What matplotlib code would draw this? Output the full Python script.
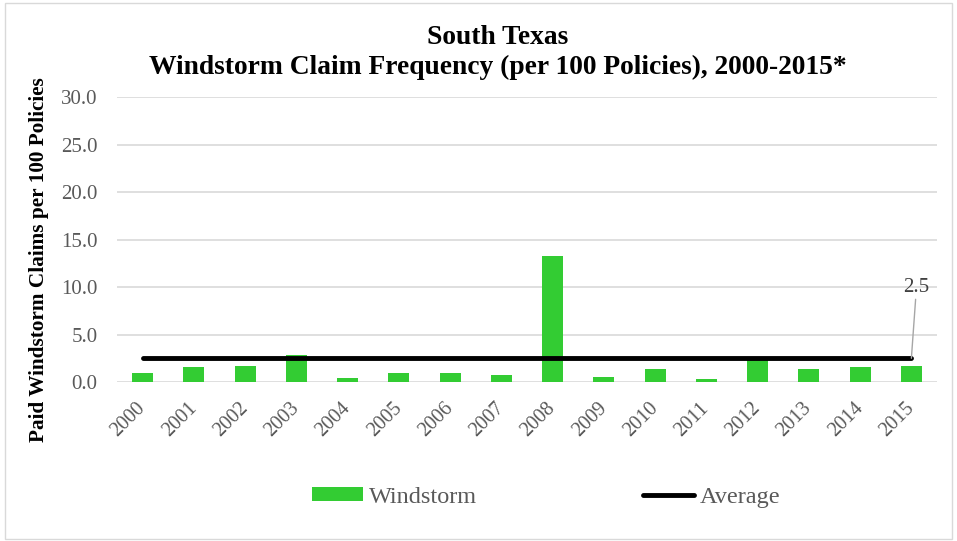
import matplotlib.pyplot as plt
from matplotlib.patches import Rectangle

years = [str(y) for y in range(2000, 2016)]
windstorm = [1.0, 1.6, 1.7, 2.8, 0.45, 0.9, 0.95, 0.7, 13.3, 0.5, 1.35, 0.3, 2.3, 1.35, 1.55, 1.65]
average = 2.5

plt.rcParams['font.family'] = ['Liberation Serif', 'DejaVu Serif']

fig = plt.figure(figsize=(9.57, 5.41), dpi=100)
ax = fig.add_axes([0.1223, 0.2939, 0.8568, 0.5268])

x = range(len(years))
bars = ax.bar(x, windstorm, width=0.41, color='#33cc33', label='Windstorm', zorder=2)
line, = ax.plot(x, [average] * len(years), color='black', linewidth=3.5, label='Average',
                solid_capstyle='round', zorder=3)

ax.set_xlim(-0.5, len(years) - 0.5)
ax.set_ylim(0, 30)
ax.set_yticks(range(0, 31, 5))
ax.set_yticklabels(['%.1f' % v for v in range(0, 31, 5)])
ax.set_xticks(list(x))
ax.set_xticklabels(years, rotation=45, ha='right', va='center', rotation_mode='anchor')
ax.tick_params(axis='both', length=0, labelsize=15, colors='#595959')
ax.tick_params(axis='x', pad=17, labelsize=14.5)
ax.tick_params(axis='y', pad=14)
ax.grid(axis='y', color='#d9d9d9', linewidth=1.2, zorder=0)
ax.set_axisbelow(True)
for s in ax.spines.values():
    s.set_visible(False)

ax.set_ylabel('Paid Windstorm Claims per 100 Policies', fontsize=15.3, fontweight='bold')
ax.yaxis.set_label_coords(-0.083, 0.428)

ax.annotate('%.1f' % average, xy=(len(years) - 1, average), xytext=(len(years) - 0.9, 9.0),
            fontsize=15, color='#404040', ha='center', va='bottom',
            arrowprops=dict(arrowstyle='-', color='#a6a6a6', lw=1, shrinkA=0, shrinkB=0))

fig.text(0.52, 0.93, 'South Texas', ha='center', va='center', fontsize=19.8, fontweight='bold')
fig.text(0.52, 0.875, 'Windstorm Claim Frequency (per 100 Policies), 2000-2015*',
         ha='center', va='center', fontsize=19.8, fontweight='bold')

leg = fig.legend([bars, line], ['Windstorm', 'Average'], loc='center',
                 bbox_to_anchor=(0.571, 0.081), ncol=2, frameon=False,
                 fontsize=17.5, columnspacing=6.8, handlelength=2.1, handleheight=0.5,
                 handletextpad=0.25)
for t in leg.get_texts():
    t.set_color('#595959')

fig.patches.append(Rectangle((0.005, 0.004), 0.99, 0.99, transform=fig.transFigure,
                             fill=False, edgecolor='#d9d9d9', linewidth=1))

fig.savefig('out.png', dpi=100)
